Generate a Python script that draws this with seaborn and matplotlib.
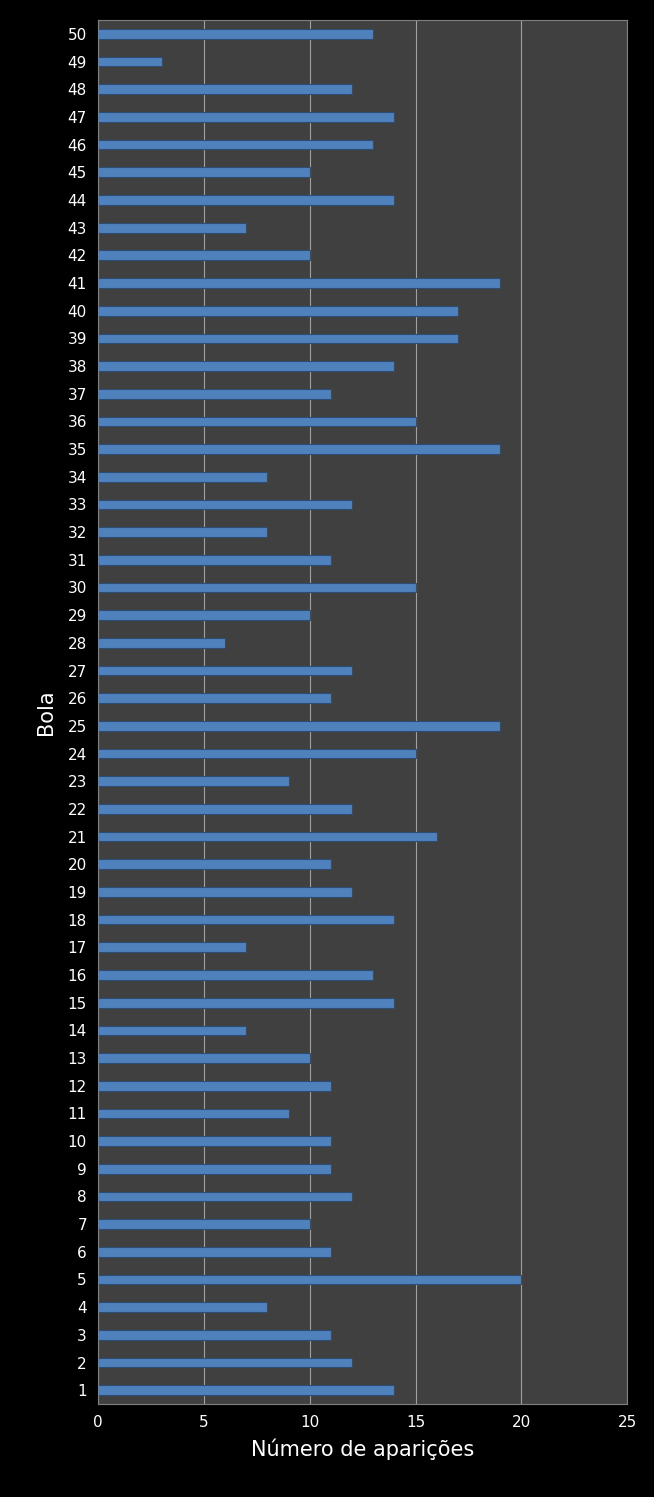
import seaborn as sns
import matplotlib.pyplot as plt
import pandas as pd

bolas = list(range(1, 51))
aparicoes = [14, 12, 11, 8, 20, 11, 10, 12, 11, 11,
             9, 11, 10, 7, 14, 13, 7, 14, 12, 11,
             16, 12, 9, 15, 19, 11, 12, 6, 10, 15,
             11, 8, 12, 8, 19, 15, 11, 14, 17, 17,
             19, 10, 7, 14, 10, 13, 14, 12, 3, 13]

df = pd.DataFrame({'bola': bolas, 'n': aparicoes})

fig = plt.figure(figsize=(6.54, 14.97), dpi=100, facecolor='black')
ax = fig.add_axes([0.150, 0.0621, 0.809, 0.9245])
ax.set_facecolor('#404040')

sns.barplot(data=df, x='n', y='bola', orient='h', order=bolas[::-1],
            color='#4F81BD', edgecolor='#2C4D75', linewidth=0.8,
            width=0.35, saturation=1, ax=ax)

ax.set_xlim(0, 25)
ax.set_xticks(range(0, 26, 5))
ax.xaxis.grid(True, color='#A0A0A0', linewidth=0.8)
ax.set_axisbelow(True)
for s in ax.spines.values():
    s.set_color('#808080')
ax.tick_params(colors='white', labelsize=11, length=0, pad=8)
ax.set_xlabel('Número de aparições', color='white', fontsize=15, labelpad=6)
ax.set_ylabel('Bola', color='white', fontsize=15, labelpad=8)

fig.savefig('out.png', dpi=100, facecolor='black')
